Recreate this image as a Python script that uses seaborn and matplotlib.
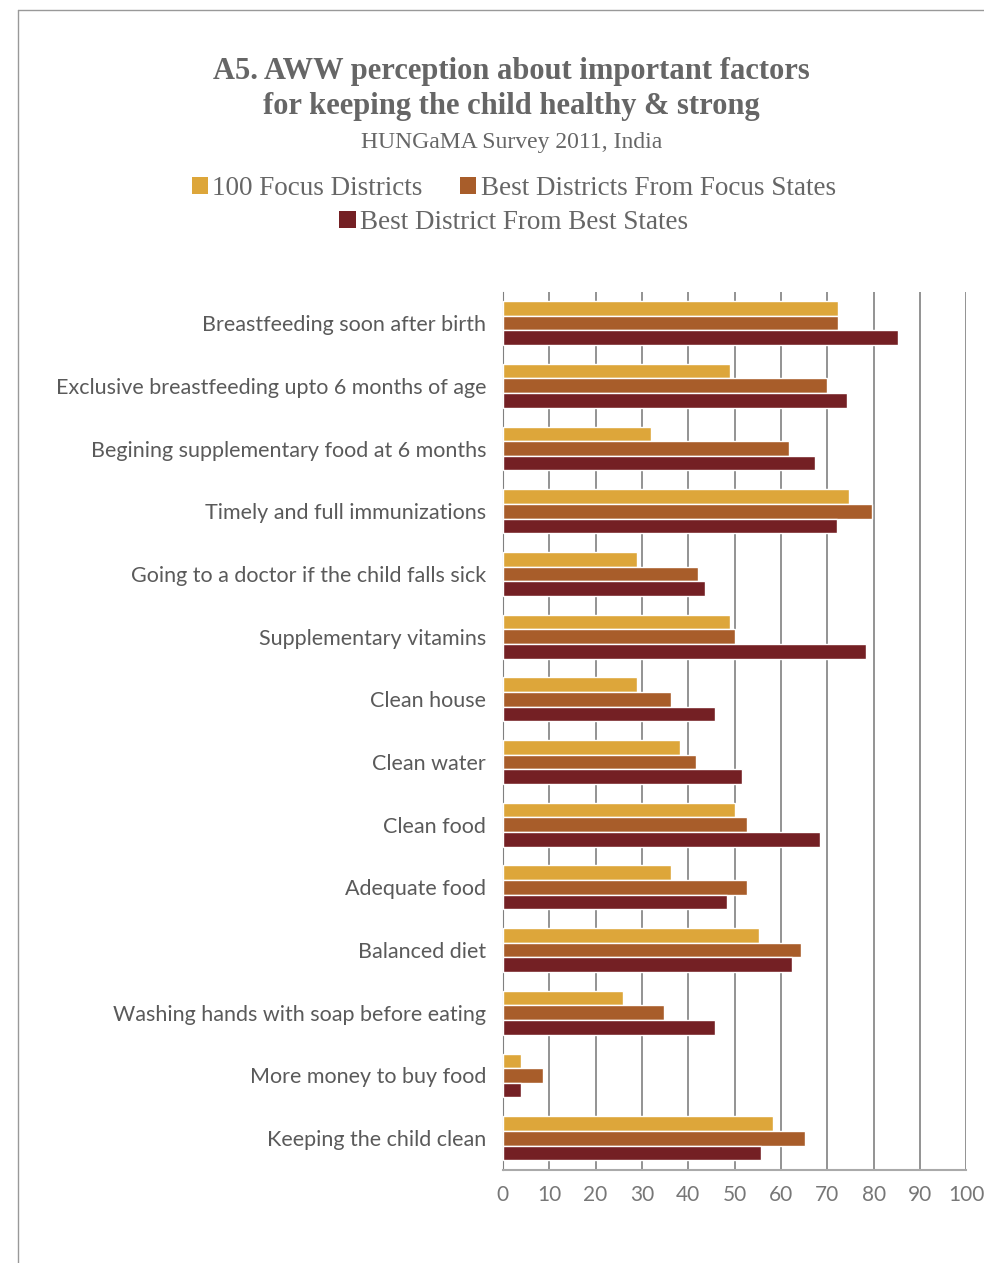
import pandas as pd
import numpy as np
import matplotlib.pyplot as plt
import seaborn as sns
from matplotlib.lines import Line2D
from matplotlib.patches import Patch
from matplotlib.ticker import FixedLocator


# data (% of AWWs)
factors = [
    "Breastfeeding soon after birth",
    "Exclusive breastfeeding upto 6 months of age",
    "Begining supplementary food at 6 months",
    "Timely and full immunizations",
    "Going to a doctor if the child falls sick",
    "Supplementary vitamins",
    "Clean house",
    "Clean water",
    "Clean food",
    "Adequate food",
    "Balanced diet",
    "Washing hands with soap before eating",
    "More money to buy food",
    "Keeping the child clean",
]
series_names = [
    "100 Focus Districts",
    "Best Districts From Focus States",
    "Best District From Best States",
]
focus_districts = [72.4, 49.1, 31.9, 74.8, 28.9, 49.1, 28.9, 38.2, 50.0, 36.2, 55.2, 25.9, 3.9, 58.4]
best_focus_states = [72.4, 70.0, 61.7, 79.7, 42.1, 50.0, 36.2, 41.6, 52.6, 52.6, 64.3, 34.7, 8.6, 65.1]
best_best_states = [85.2, 74.2, 67.3, 72.2, 43.6, 78.3, 45.7, 51.5, 68.4, 48.3, 62.5, 45.7, 3.9, 55.6]
x_ticks = list(range(0, 101, 10))

colors = ["#DDA63A", "#A85D2A", "#742024"]
grey_text = "#666666"

df = pd.DataFrame({
    "factor": factors * 3,
    "series": np.repeat(series_names, len(factors)),
    "value": focus_districts + best_focus_states + best_best_states,
})

sns.set_style("white")
plt.rcParams["font.family"] = ["Lato", "DejaVu Sans"]

fig = plt.figure(figsize=(9.84, 12.63), dpi=100)
ax = fig.add_axes([0.511, 0.074, 0.471, 0.695])

sns.barplot(data=df, y="factor", x="value", hue="series", orient="h",
            palette=colors, saturation=1, width=0.7, gap=0,
            ax=ax, legend=False, zorder=3)

ax.set_xlim(0, 100)
ax.set_xticks(x_ticks)
ax.set_xlabel("")
ax.set_ylabel("")
ax.grid(axis="x", color="#808080", lw=1.2, zorder=0)
ax.grid(axis="y", visible=False)
for s in ["top", "right"]:
    ax.spines[s].set_visible(False)
ax.spines["left"].set_color("#808080")
ax.spines["bottom"].set_color("#aaaaaa")
ax.spines["bottom"].set_linewidth(1.5)
ax.tick_params(axis="x", color="#aaaaaa", length=5, width=1.2, pad=6)
ax.tick_params(axis="x", labelsize=15, labelcolor="#777777")
ax.tick_params(axis="y", length=0, labelsize=15.5, labelcolor="#5a5a5a", pad=12)
ax.yaxis.set_minor_locator(FixedLocator(np.arange(-0.5, len(factors), 1)))
ax.tick_params(axis="y", which="minor", length=4, color="#aaaaaa")

# titles
fig.text(0.52, 0.9295,
         "A5. AWW perception about important factors\nfor keeping the child healthy & strong",
         ha="center", va="center", fontsize=22, fontweight="bold",
         family="Liberation Serif", color=grey_text, linespacing=1.3)
fig.text(0.52, 0.887, "HUNGaMA Survey 2011, India", ha="center", va="center",
         fontsize=17, family="Liberation Serif", color=grey_text)

# legend, two rows like the original
handles = [Patch(facecolor=c, edgecolor="none") for c in colors]
leg_kw = dict(frameon=False, handlelength=0.6, handleheight=0.6, handletextpad=0.15,
              columnspacing=1.4, prop={"family": "Liberation Serif", "size": 19.5})
leg1 = fig.legend(handles[:2], series_names[:2], loc="center", ncol=2,
                  bbox_to_anchor=(0.522, 0.851), labelcolor=grey_text, **leg_kw)
leg2 = fig.legend(handles[2:], series_names[2:], loc="center", ncol=1,
                  bbox_to_anchor=(0.522, 0.824), labelcolor=grey_text, **leg_kw)

# page frame
fig.add_artist(Line2D([18 / 984, 18 / 984], [0, 1 - 10 / 1263], transform=fig.transFigure,
                      color="#999999", lw=1))
fig.add_artist(Line2D([18 / 984, 1], [1 - 10 / 1263, 1 - 10 / 1263], transform=fig.transFigure,
                      color="#999999", lw=1))

fig.savefig("out.png", dpi=100)
